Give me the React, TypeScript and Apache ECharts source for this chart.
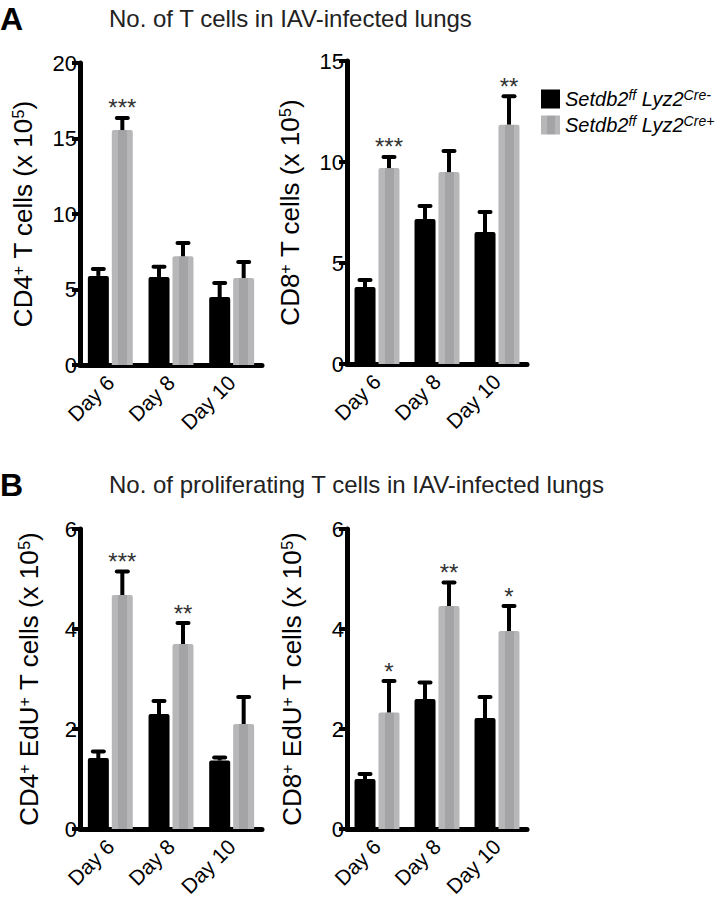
import React, { useEffect, useRef } from "react";
import * as echarts from "echarts";

const categories = ["Day 6", "Day 8", "Day 10"];
const NEG = "Setdb2ff Lyz2Cre-";
const POS = "Setdb2ff Lyz2Cre+";

// Panel A left: CD4+ T cells (x 10^5)
const cd4Neg = [5.9, 5.83, 4.5];
const cd4NegErr = [0.45, 0.67, 0.93];
const cd4Pos = [15.56, 7.2, 5.76];
const cd4PosErr = [0.8, 0.88, 1.06];
const cd4Stars = ["***", "", ""];

// Panel A right: CD8+ T cells (x 10^5)
const cd8Neg = [3.81, 7.18, 6.53];
const cd8NegErr = [0.35, 0.64, 0.99];
const cd8Pos = [9.7, 9.5, 11.85];
const cd8PosErr = [0.55, 1.04, 1.4];
const cd8Stars = ["***", "", "**"];

// Panel B left: CD4+ EdU+ T cells (x 10^5)
const cd4EduNeg = [1.42, 2.3, 1.37];
const cd4EduNegErr = [0.13, 0.26, 0.06];
const cd4EduPos = [4.68, 3.7, 2.1];
const cd4EduPosErr = [0.47, 0.42, 0.54];
const cd4EduStars = ["***", "**", ""];

// Panel B right: CD8+ EdU+ T cells (x 10^5)
const cd8EduNeg = [1.0, 2.6, 2.22];
const cd8EduNegErr = [0.1, 0.33, 0.42];
const cd8EduPos = [2.33, 4.46, 3.96];
const cd8EduPosErr = [0.63, 0.47, 0.5];
const cd8EduStars = ["*", "**", "*"];

const yMax = [20, 15, 6, 6];
const yInterval = [5, 5, 2, 2];
const yNames = [
  "CD4{sup|+} T cells (x 10{sup|5})",
  "CD8{sup|+} T cells (x 10{sup|5})",
  "CD4{sup|+} EdU{sup|+} T cells (x 10{sup|5})",
  "CD8{sup|+} EdU{sup|+} T cells (x 10{sup|5})",
];
const titleA = "No. of T cells in IAV-infected lungs";
const titleB = "No. of proliferating T cells in IAV-infected lungs";

const FONT = '"Liberation Sans", Arial, Helvetica, sans-serif';

export default function App() {
  const ref = useRef<HTMLDivElement>(null);

  useEffect(() => {
    if (!ref.current) return;
    const chart = echarts.init(ref.current, null, { renderer: "svg" });

    const panels = [
      { neg: cd4Neg, negErr: cd4NegErr, pos: cd4Pos, posErr: cd4PosErr, stars: cd4Stars },
      { neg: cd8Neg, negErr: cd8NegErr, pos: cd8Pos, posErr: cd8PosErr, stars: cd8Stars },
      { neg: cd4EduNeg, negErr: cd4EduNegErr, pos: cd4EduPos, posErr: cd4EduPosErr, stars: cd4EduStars },
      { neg: cd8EduNeg, negErr: cd8EduNegErr, pos: cd8EduPos, posErr: cd8EduPosErr, stars: cd8EduStars },
    ];

    const grids = [
      { left: 80, top: 63, width: 182, height: 302 },
      { left: 347, top: 61, width: 180, height: 303 },
      { left: 80, top: 529, width: 182, height: 300 },
      { left: 347, top: 529, width: 180, height: 300 },
    ];
    const nameGaps = [44, 44, 38, 42];

    const grayFill = new echarts.graphic.LinearGradient(0, 0, 1, 0, [
      { offset: 0, color: "#b7b7b9" },
      { offset: 0.3, color: "#b7b7b9" },
      { offset: 0.3, color: "#a4a4a7" },
      { offset: 0.72, color: "#a4a4a7" },
      { offset: 0.72, color: "#b7b7b9" },
      { offset: 1, color: "#b7b7b9" },
    ]);

    const makeErr = (offset: number, stars?: string[]) => (params: any, api: any) => {
      const k = api.value(0);
      const v = api.value(1);
      const e = api.value(2);
      const base = api.coord([k, v]);
      const top = api.coord([k, v + e]);
      const x = base[0] + offset;
      const children: any[] = [
        { type: "line", shape: { x1: x, y1: base[1], x2: x, y2: top[1] }, style: { stroke: "#000", lineWidth: 4 } },
        { type: "line", shape: { x1: x - 5.5, y1: top[1], x2: x + 5.5, y2: top[1] }, style: { stroke: "#000", lineWidth: 4, lineCap: "round" } },
      ];
      const s = stars ? stars[params.dataIndex] : "";
      if (s) {
        children.push({
          type: "text",
          x,
          y: top[1] - 10,
          style: { text: s, fontSize: 24, fontFamily: FONT, fill: "#333", align: "center", verticalAlign: "middle" },
        });
      }
      return { type: "group", children };
    };

    const series: any[] = [];
    panels.forEach((p, i) => {
      series.push({
        name: NEG,
        type: "bar",
        xAxisIndex: i,
        yAxisIndex: i,
        data: p.neg,
        barWidth: 21,
        barGap: "14%",
        itemStyle: { color: "#000", borderRadius: [2, 2, 0, 0] },
      });
      series.push({
        name: POS,
        type: "bar",
        xAxisIndex: i,
        yAxisIndex: i,
        data: p.pos,
        barWidth: 21,
        barGap: "14%",
        itemStyle: { color: grayFill, borderRadius: [2, 2, 0, 0] },
      });
      series.push({
        type: "custom",
        xAxisIndex: i,
        yAxisIndex: i,
        z: 5,
        encode: { x: 0, y: 1 },
        data: p.neg.map((v, k) => [k, v, p.negErr[k]]),
        renderItem: makeErr(-12),
      });
      series.push({
        type: "custom",
        xAxisIndex: i,
        yAxisIndex: i,
        z: 5,
        encode: { x: 0, y: 1 },
        data: p.pos.map((v, k) => [k, v, p.posErr[k]]),
        renderItem: makeErr(12, p.stars),
      });
    });

    const supStyle = { fontSize: 16, verticalAlign: "top", lineHeight: 14, fontFamily: FONT, color: "#000" };

    chart.setOption({
      animation: false,
      backgroundColor: "#fff",
      title: [
        { text: "A", left: 0, top: 3, padding: 0, textStyle: { fontSize: 32, fontWeight: "bold", color: "#000", fontFamily: FONT } },
        { text: titleA, left: 109, top: 6, padding: 0, textStyle: { fontSize: 24, fontWeight: "normal", color: "#222", fontFamily: FONT } },
        { text: "B", left: 0, top: 469, padding: 0, textStyle: { fontSize: 32, fontWeight: "bold", color: "#000", fontFamily: FONT } },
        { text: titleB, left: 109, top: 472, padding: 0, textStyle: { fontSize: 24, fontWeight: "normal", color: "#222", fontFamily: FONT } },
      ],
      legend: {
        orient: "vertical",
        left: 536,
        top: 83,
        itemWidth: 19,
        itemHeight: 19,
        itemGap: 5,
        icon: "rect",
        data: [NEG, POS],
        formatter: (name: string) =>
          name === NEG ? "{i|Setdb2}{s|ff}{i| Lyz2}{s|Cre-}" : "{i|Setdb2}{s|ff}{i| Lyz2}{s|Cre+}",
        textStyle: {
          fontSize: 20,
          fontFamily: FONT,
          color: "#000",
          rich: {
            i: { fontSize: 20, fontStyle: "italic", fontFamily: FONT, color: "#000", lineHeight: 22 },
            s: { fontSize: 14, fontStyle: "italic", fontFamily: FONT, color: "#000", verticalAlign: "top", lineHeight: 13 },
          },
        },
      },
      grid: grids,
      xAxis: grids.map((_, i) => ({
        type: "category",
        gridIndex: i,
        data: categories,
        axisLine: { lineStyle: { color: "#000", width: 5 } },
        axisTick: { alignWithLabel: true, length: 9, lineStyle: { color: "#000", width: 5 } },
        axisLabel: { rotate: 45, fontSize: 21, color: "#000", margin: 14, fontFamily: FONT },
        splitLine: { show: false },
      })),
      yAxis: grids.map((_, i) => ({
        type: "value",
        gridIndex: i,
        min: 0,
        max: yMax[i],
        interval: yInterval[i],
        axisLine: { show: true, lineStyle: { color: "#000", width: 5 } },
        axisTick: { show: true, length: 8, lineStyle: { color: "#000", width: 4 } },
        axisLabel: { fontSize: 22, color: "#000", margin: 3, fontFamily: FONT },
        splitLine: { show: false },
        name: yNames[i],
        nameLocation: "middle",
        nameGap: nameGaps[i],
        nameTextStyle: { fontSize: 26, color: "#000", fontFamily: FONT, rich: { sup: supStyle } },
      })),
      series,
    });

    return () => chart.dispose();
  }, []);

  return <div ref={ref} style={{ position: "absolute", left: 0, top: 0, width: 724, height: 912 }} />;
}
